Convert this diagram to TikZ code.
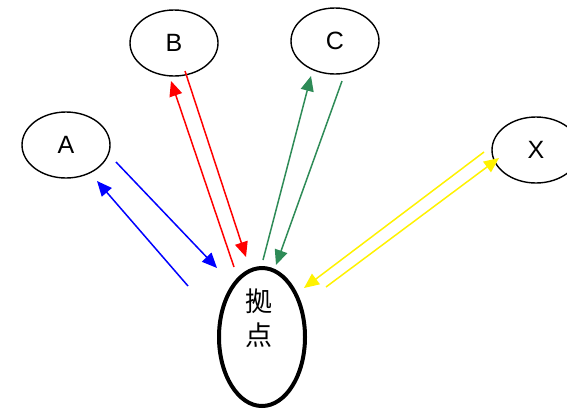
\documentclass[tikz,border=0pt]{standalone}
\usepackage{fontspec}
\setmainfont{Liberation Sans}
\newfontfamily\cjk{Noto Sans CJK JP}
\usetikzlibrary{shapes.geometric,arrows.meta}
\tikzset{
  site/.style={ellipse, draw, line width=1.4pt, minimum width=88pt, minimum height=66pt, inner sep=0pt, font=\fontsize{25}{28}\selectfont},
  hub/.style={ellipse, draw, line width=4pt, minimum width=86pt, minimum height=138pt, inner sep=0pt},
  link/.style={line width=1.5pt, -{Triangle[length=15pt,width=13pt]}},
}
\begin{document}
\begin{tikzpicture}[x=1pt,y=-1pt]
\useasboundingbox (0,0) rectangle (567,408);
\node[site] (A) at (66,145) {A};
\node[site] (B) at (174,43) {B};
\node[site] (C) at (335,41) {C};
\node[site] (X) at (536,150) {X};
\node[hub] (H) at (262,337) {};
\node[font=\cjk\fontsize{27}{34}\selectfont, align=center] (Hl) at (259,318) {拠\\点};
% blue
\coordinate (a1) at (116,162); \coordinate (a2) at (217,268);
\coordinate (a3) at (188,286); \coordinate (a4) at (97,181);
\draw[link, blue] (a1) -- (a2);
\draw[link, blue] (a3) -- (a4);
% red
\coordinate (b1) at (185,71); \coordinate (b2) at (246,257);
\coordinate (b3) at (234,267); \coordinate (b4) at (171,81);
\draw[link, red] (b1) -- (b2);
\draw[link, red] (b3) -- (b4);
% green
\definecolor{grn}{RGB}{46,139,87}
\coordinate (c1) at (263,260); \coordinate (c2) at (311,76);
\coordinate (c3) at (342,81); \coordinate (c4) at (276,265);
\draw[link, grn] (c1) -- (c2);
\draw[link, grn] (c3) -- (c4);
% yellow
\coordinate (x1) at (484,152); \coordinate (x2) at (304,288);
\coordinate (x3) at (326,287); \coordinate (x4) at (499,158);
\draw[link, yellow] (x1) -- (x2);
\draw[link, yellow] (x3) -- (x4);
\end{tikzpicture}
\end{document}
